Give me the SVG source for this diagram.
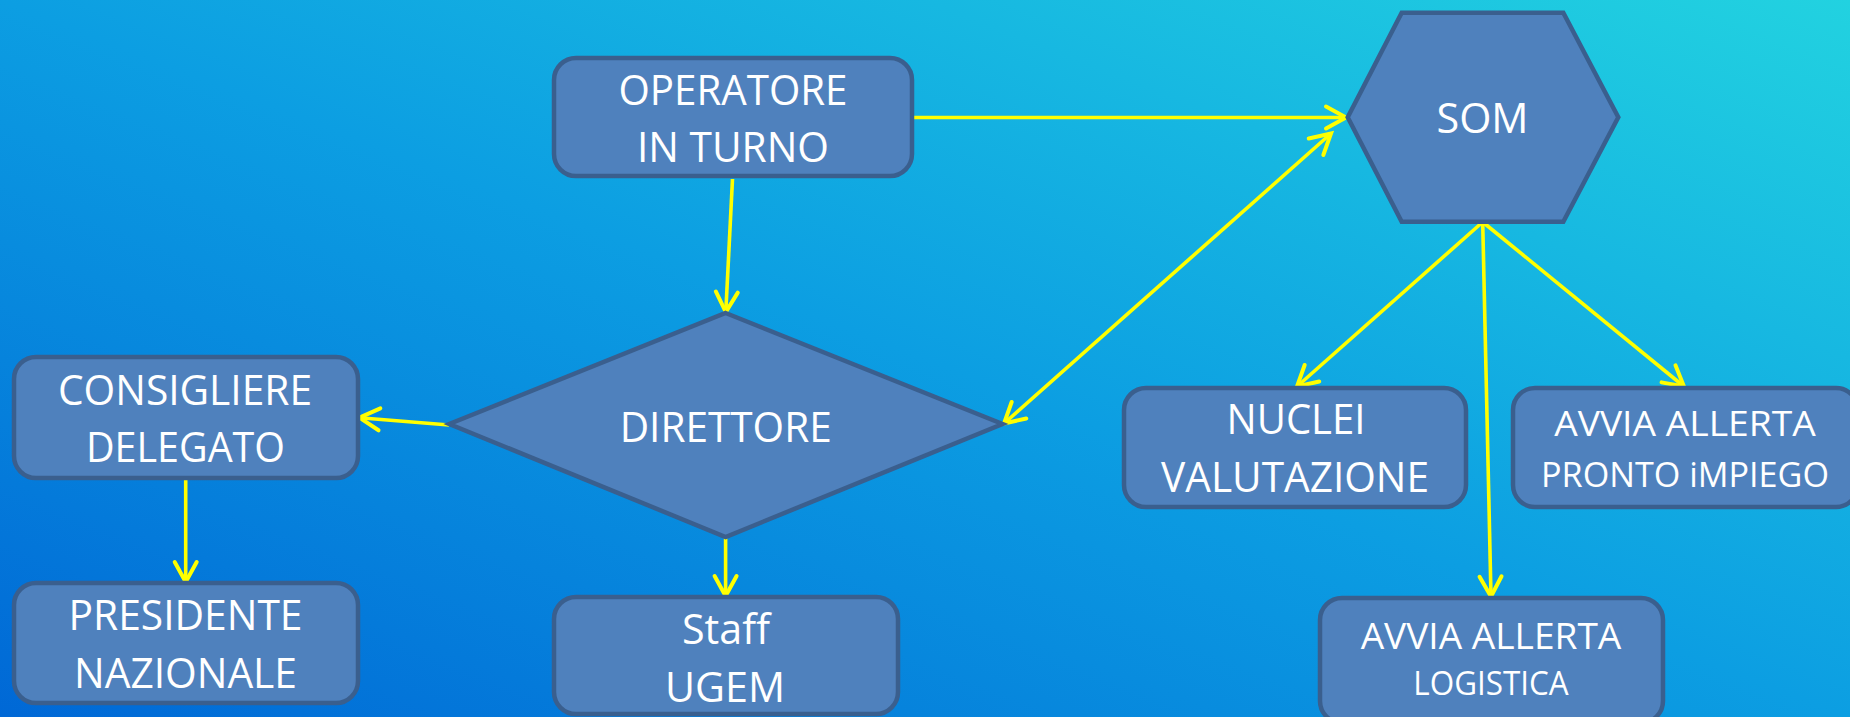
<svg xmlns="http://www.w3.org/2000/svg" width="1850" height="717" viewBox="0 0 1850 717">
<defs>
<linearGradient id="bg" x1="0" y1="1" x2="1" y2="0">
<stop offset="0" stop-color="#0068d6"/>
<stop offset="0.5" stop-color="#0c9ee2"/>
<stop offset="1" stop-color="#22d2e0"/>
</linearGradient>
<marker id="ah" markerUnits="userSpaceOnUse" viewBox="-26 -16 30 32" refX="0" refY="0" markerWidth="30" markerHeight="32" orient="auto-start-reverse" overflow="visible">
<path d="M-20,-11 L0,0 L-20,11" fill="none" stroke="#ffff00" stroke-width="4" stroke-linecap="round" stroke-linejoin="miter"/>
</marker>
<style>
.n{fill:#4f81bd;stroke:#3a5f8e;stroke-width:4.5}
.t{fill:#ffffff;font-family:"Open Sans","Noto Sans","DejaVu Sans",sans-serif;font-size:42px;text-anchor:middle}
.s{font-size:35px}
.c line{stroke:#ffff00;stroke-width:3.6;fill:none;marker-end:url(#ah)}
</style>
</defs>
<rect x="0" y="0" width="1850" height="717" fill="url(#bg)"/>
<g id="connectors" class="c">
<line x1="914" y1="117.5" x2="1346" y2="117.5"/>
<line x1="732.5" y1="179" x2="725.8" y2="312"/>
<line x1="1331" y1="133.5" x2="1004" y2="423.5" style="marker-start:url(#ah)"/>
<line x1="449" y1="425" x2="359.5" y2="417.7"/>
<line x1="185.7" y1="479" x2="185.7" y2="582"/>
<line x1="725.6" y1="538" x2="725.6" y2="596"/>
<line x1="1482.7" y1="222" x2="1297" y2="386.5"/>
<line x1="1482.7" y1="222" x2="1491" y2="596.5"/>
<line x1="1482.7" y1="222" x2="1684" y2="386.5"/>
</g>
<g id="operatore">
<rect class="n" x="554" y="58" width="358" height="118" rx="22"/>
<text class="t" x="733" y="105" textLength="229" lengthAdjust="spacingAndGlyphs">OPERATORE</text>
<text class="t" x="733" y="161.7" textLength="192" lengthAdjust="spacingAndGlyphs">IN TURNO</text>
</g>
<g id="som">
<polygon class="n" points="1347.7,117.3 1401.7,12.7 1563.3,12.7 1618.3,117.3 1563.3,221.7 1401.7,221.7"/>
<text class="t" x="1482.5" y="133.3" textLength="92" lengthAdjust="spacingAndGlyphs">SOM</text>
</g>
<g id="direttore">
<polygon class="n" points="725.6,313 1002.5,424 725.6,537 449.3,424"/>
<text class="t" x="725.7" y="441.7" textLength="212" lengthAdjust="spacingAndGlyphs">DIRETTORE</text>
</g>
<g id="consigliere">
<rect class="n" x="14" y="357" width="344" height="121" rx="22"/>
<text class="t" x="185" y="405" textLength="254" lengthAdjust="spacingAndGlyphs">CONSIGLIERE</text>
<text class="t" x="185.5" y="462.3" textLength="199" lengthAdjust="spacingAndGlyphs">DELEGATO</text>
</g>
<g id="presidente">
<rect class="n" x="14" y="583" width="344" height="120" rx="22"/>
<text class="t" x="185.5" y="630" textLength="234" lengthAdjust="spacingAndGlyphs">PRESIDENTE</text>
<text class="t" x="185.5" y="687.7" textLength="223" lengthAdjust="spacingAndGlyphs">NAZIONALE</text>
</g>
<g id="staff">
<rect class="n" x="554" y="597" width="344" height="117" rx="22"/>
<text class="t" x="726" y="644" textLength="88" lengthAdjust="spacingAndGlyphs">Staff</text>
<text class="t" x="725" y="701.7" textLength="120" lengthAdjust="spacingAndGlyphs">UGEM</text>
</g>
<g id="nuclei">
<rect class="n" x="1124" y="388" width="342" height="119" rx="22"/>
<text class="t" x="1296" y="434" textLength="139" lengthAdjust="spacingAndGlyphs">NUCLEI</text>
<text class="t" x="1295" y="491.7" textLength="268" lengthAdjust="spacingAndGlyphs">VALUTAZIONE</text>
</g>
<g id="pronto">
<rect class="n" x="1513" y="388" width="345" height="119" rx="22"/>
<text class="t s" x="1685" y="436" textLength="261.6" lengthAdjust="spacingAndGlyphs">AVVIA ALLERTA</text>
<text class="t s" x="1685" y="487.3" style="font-size:34px" textLength="288" lengthAdjust="spacingAndGlyphs">PRONTO iMPIEGO</text>
</g>
<g id="logistica">
<rect class="n" x="1320" y="598" width="343" height="125" rx="22"/>
<text class="t s" x="1491" y="649.3" style="font-size:36px" textLength="260.7" lengthAdjust="spacingAndGlyphs">AVVIA ALLERTA</text>
<text class="t s" x="1491" y="695" style="font-size:33px" textLength="155.4" lengthAdjust="spacingAndGlyphs">LOGISTICA</text>
</g>
</svg>
